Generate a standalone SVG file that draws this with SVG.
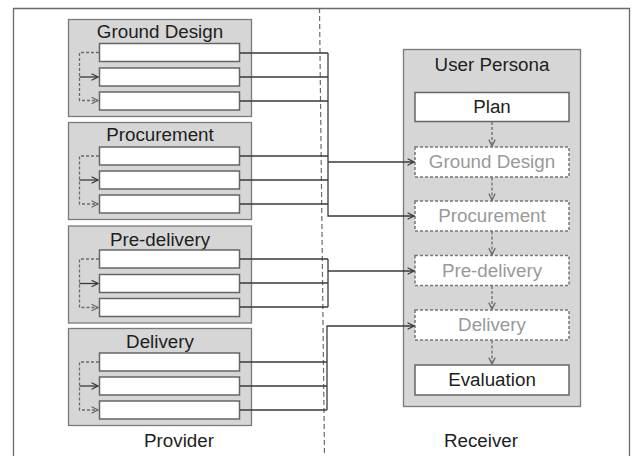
<svg xmlns="http://www.w3.org/2000/svg" width="635" height="456" viewBox="0 0 635 456">
<defs>
<style>
text{font-family:"Liberation Sans",Arial,sans-serif;font-size:18.8px;text-anchor:middle;fill:#1e1e1e}
.grp{fill:#d6d6d6;stroke:#7a7a7a;stroke-width:1.3}
.box{fill:#fff;stroke:#666;stroke-width:1.5}
.tbox{fill:#fff;stroke:#777;stroke-width:1.5;stroke-dasharray:3 2}
.ln{fill:none;stroke:#3a3a3a;stroke-width:1.3}
.dl{fill:none;stroke:#6a6a6a;stroke-width:1.3;stroke-dasharray:3 2}
.gray{fill:#999}
</style>
<marker id="ah" viewBox="0 0 10 10" refX="9" refY="5" markerWidth="8" markerHeight="8" markerUnits="userSpaceOnUse" orient="auto">
<path d="M1,1 L9,5 L1,9" fill="none" stroke="#3a3a3a" stroke-width="1.6"/>
</marker>
<marker id="ahg" viewBox="0 0 10 10" refX="9" refY="5" markerWidth="8" markerHeight="8" markerUnits="userSpaceOnUse" orient="auto">
<path d="M1,1 L9,5 L1,9" fill="none" stroke="#6a6a6a" stroke-width="1.6"/>
</marker>
</defs>
<rect width="635" height="456" fill="#fff"/>
<path d="M13.5,460 V8.5 H629.5 V460" fill="none" stroke="#6a6a6a" stroke-width="1.3"/>
<line x1="319.5" y1="8" x2="324.5" y2="456" stroke="#6a6a6a" stroke-width="1.2" stroke-dasharray="5 3"/>

<g id="ground-design">
<rect class="grp" x="68.5" y="19.5" width="183" height="97"/>
<text x="160" y="38">Ground Design</text>
<rect class="box" x="99.5" y="43.5" width="140" height="18"/>
<rect class="box" x="99.5" y="68" width="140" height="18"/>
<rect class="box" x="99.5" y="92" width="140" height="18"/>
<path class="dl" d="M99,52.5 H79.5 V100.5 H98" marker-end="url(#ahg)"/>
<path class="ln" d="M79.5,77 H98" marker-end="url(#ah)"/>
</g>

<g id="procurement">
<rect class="grp" x="68.5" y="122.5" width="183" height="97"/>
<text x="160" y="141">Procurement</text>
<rect class="box" x="99.5" y="147" width="140" height="18"/>
<rect class="box" x="99.5" y="171" width="140" height="18"/>
<rect class="box" x="99.5" y="195" width="140" height="18"/>
<path class="dl" d="M99,156 H79.5 V204 H98" marker-end="url(#ahg)"/>
<path class="ln" d="M79.5,180 H98" marker-end="url(#ah)"/>
</g>

<g id="pre-delivery">
<rect class="grp" x="68.5" y="226" width="183" height="97"/>
<text x="160" y="246">Pre-delivery</text>
<rect class="box" x="99.5" y="250" width="140" height="18"/>
<rect class="box" x="99.5" y="274.5" width="140" height="18"/>
<rect class="box" x="99.5" y="298.5" width="140" height="18"/>
<path class="dl" d="M99,259 H79.5 V307.5 H98" marker-end="url(#ahg)"/>
<path class="ln" d="M79.5,283.5 H98" marker-end="url(#ah)"/>
</g>

<g id="delivery">
<rect class="grp" x="68.5" y="328.5" width="183" height="97"/>
<text x="160" y="348">Delivery</text>
<rect class="box" x="99.5" y="353" width="140" height="18"/>
<rect class="box" x="99.5" y="377" width="140" height="18"/>
<rect class="box" x="99.5" y="401" width="140" height="18"/>
<path class="dl" d="M99,362 H79.5 V410 H98" marker-end="url(#ahg)"/>
<path class="ln" d="M79.5,386 H98" marker-end="url(#ah)"/>
</g>

<g id="user-persona">
<rect class="grp" x="403.5" y="49.5" width="177" height="357"/>
<text x="492" y="71">User Persona</text>
<rect class="box" x="415" y="92.5" width="154" height="29"/>
<text x="492" y="113">Plan</text>
<rect class="tbox" x="415" y="147" width="154" height="30"/>
<text class="gray" x="492" y="168">Ground Design</text>
<rect class="tbox" x="415" y="201" width="154" height="30"/>
<text class="gray" x="492" y="222">Procurement</text>
<rect class="tbox" x="415" y="255.5" width="154" height="30"/>
<text class="gray" x="492" y="276.5">Pre-delivery</text>
<rect class="tbox" x="415" y="310" width="154" height="30"/>
<text class="gray" x="492" y="331">Delivery</text>
<rect class="box" x="415" y="365" width="154" height="30"/>
<text x="492" y="386">Evaluation</text>
<path class="dl" d="M492,122 V146" marker-end="url(#ahg)"/>
<path class="dl" d="M492,177.5 V200" marker-end="url(#ahg)"/>
<path class="dl" d="M492,231.5 V254.5" marker-end="url(#ahg)"/>
<path class="dl" d="M492,286 V309" marker-end="url(#ahg)"/>
<path class="dl" d="M492,340.5 V364" marker-end="url(#ahg)"/>
</g>

<g id="connectors">
<path class="ln" d="M240,53 H328 M240,77 H328 M240,101 H328"/>
<path class="ln" d="M328,53 V216 H414" marker-end="url(#ah)"/>
<path class="ln" d="M240,156 H328 M240,180 H328 M240,204 H328"/>
<path class="ln" d="M328,162 H414" marker-end="url(#ah)"/>
<path class="ln" d="M240,259 H328 M240,283 H328 M240,307 H328 M328,259 V307"/>
<path class="ln" d="M328,271 H414" marker-end="url(#ah)"/>
<path class="ln" d="M240,362 H327 M240,386 H327 M240,410 H327"/>
<path class="ln" d="M327,410 V326 H414" marker-end="url(#ah)"/>
</g>

<text x="179" y="447">Provider</text>
<text x="481" y="447">Receiver</text>
</svg>
